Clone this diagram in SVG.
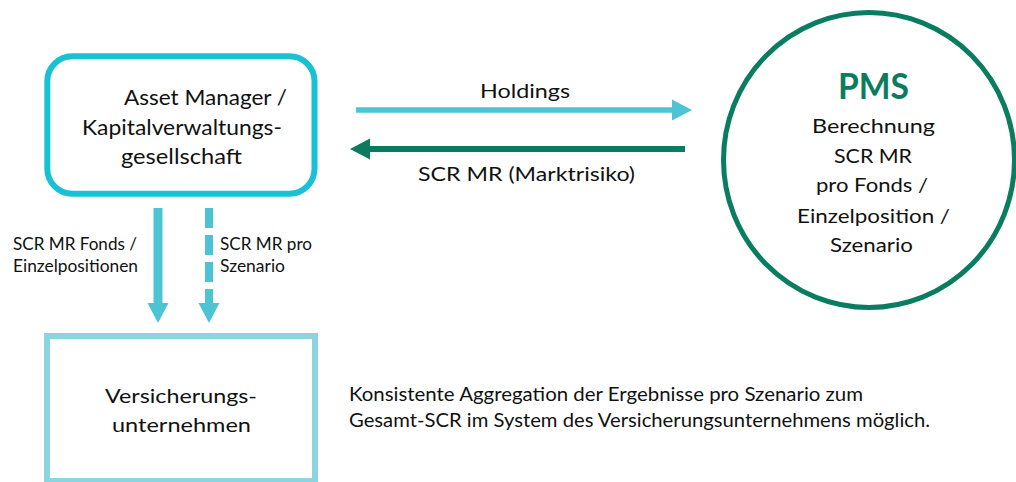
<svg xmlns="http://www.w3.org/2000/svg" width="1016" height="482" viewBox="0 0 1016 482">
<style>
text{font-family:Lato,"Liberation Sans",sans-serif;fill:#111;}
.t21{font-size:21px;}
.t19{font-size:19.5px;}
.t18{font-size:18.5px;}
.t16{font-size:16.3px;}
.pms{font-size:36px;font-weight:bold;fill:#0b7d5e;}
.mid{text-anchor:middle;}
.cyan{fill:#4cc4d4;}
.green{fill:#0a7b5e;}
</style>
<rect width="1016" height="482" fill="#fff"/>
<g id="connectors">
  <line x1="356" y1="110" x2="673" y2="110" stroke="#4cc4d4" stroke-width="5.5"/>
  <polygon class="cyan" points="672,99.5 692,110 672,120.5"/>
  <line x1="685" y1="149" x2="369" y2="149" stroke="#0a7b5e" stroke-width="6"/>
  <polygon class="green" points="370,138.5 350,149 370,159.5"/>
  <line x1="158" y1="208" x2="158" y2="304" stroke="#4cc4d4" stroke-width="9"/>
  <polygon class="cyan" points="147.5,303 168.5,303 158,323"/>
  <line x1="209" y1="208" x2="209" y2="303" stroke="#4cc4d4" stroke-width="8" stroke-dasharray="20 7"/>
  <polygon class="cyan" points="198.5,303 219.5,303 209,323"/>
  <text class="t18 mid" x="525" y="98" textLength="90" lengthAdjust="spacingAndGlyphs">Holdings</text>
  <text class="t18 mid" x="526.5" y="181" textLength="217" lengthAdjust="spacingAndGlyphs">SCR MR (Marktrisiko)</text>
  <text class="t16" x="13" y="250" textLength="124" lengthAdjust="spacingAndGlyphs">SCR MR Fonds /</text>
  <text class="t16" x="13" y="272" textLength="125" lengthAdjust="spacingAndGlyphs">Einzelpositionen</text>
  <text class="t16" x="220" y="250" textLength="92" lengthAdjust="spacingAndGlyphs">SCR MR pro</text>
  <text class="t16" x="220" y="272" textLength="65" lengthAdjust="spacingAndGlyphs">Szenario</text>
</g>
<g id="asset-manager">
  <rect x="47.3" y="56.3" width="267.2" height="137.4" rx="25" fill="#fff" stroke="#17c2d5" stroke-width="6"/>
  <text class="t21" x="124" y="105" textLength="163" lengthAdjust="spacingAndGlyphs">Asset Manager /</text>
  <text class="t21" x="82" y="135" textLength="200" lengthAdjust="spacingAndGlyphs">Kapitalverwaltungs-</text>
  <text class="t21" x="121" y="164" textLength="121" lengthAdjust="spacingAndGlyphs">gesellschaft</text>
</g>
<g id="pms">
  <ellipse cx="869" cy="160" rx="145.5" ry="147.5" fill="none" stroke="#0a7d60" stroke-width="5"/>
  <text class="pms mid" x="873.5" y="99" textLength="71" lengthAdjust="spacingAndGlyphs">PMS</text>
  <text class="t19 mid" x="873.5" y="133" textLength="123" lengthAdjust="spacingAndGlyphs">Berechnung</text>
  <text class="t19 mid" x="873" y="163" textLength="78" lengthAdjust="spacingAndGlyphs">SCR MR</text>
  <text class="t19 mid" x="872" y="192" textLength="112" lengthAdjust="spacingAndGlyphs">pro Fonds /</text>
  <text class="t19 mid" x="873.5" y="223" textLength="153" lengthAdjust="spacingAndGlyphs">Einzelposition /</text>
  <text class="t19 mid" x="871.5" y="252" textLength="83" lengthAdjust="spacingAndGlyphs">Szenario</text>
</g>
<g id="versicherungsunternehmen">
  <rect x="47" y="336" width="268" height="145" fill="#fff" stroke="#8cd4df" stroke-width="6"/>
  <text class="t19 mid" x="181" y="403" textLength="152" lengthAdjust="spacingAndGlyphs">Versicherungs-</text>
  <text class="t19 mid" x="181.5" y="432" textLength="139" lengthAdjust="spacingAndGlyphs">unternehmen</text>
</g>
<g id="note">
  <text class="t18" x="349" y="401" textLength="514" lengthAdjust="spacingAndGlyphs">Konsistente Aggregation der Ergebnisse pro Szenario zum</text>
  <text class="t18" x="349" y="427" textLength="581" lengthAdjust="spacingAndGlyphs">Gesamt-SCR im System des Versicherungsunternehmens möglich.</text>
</g>
</svg>
